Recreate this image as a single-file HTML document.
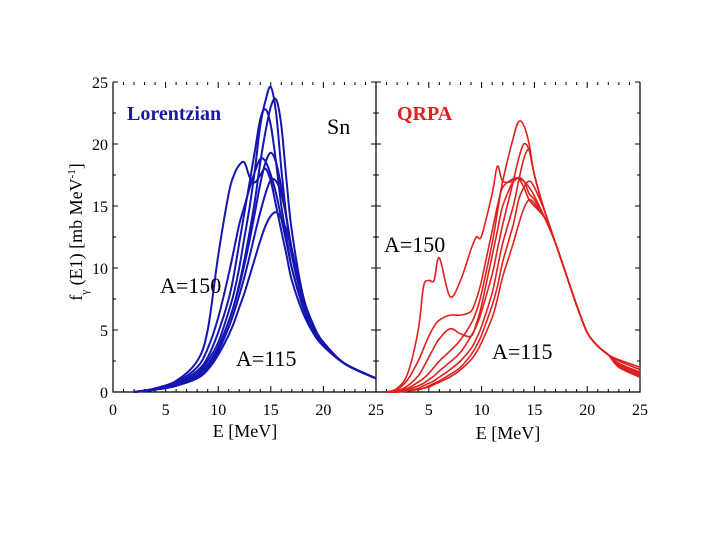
<!DOCTYPE html>
<html><head><meta charset="utf-8"><style>
body{margin:0;background:#fff;}
svg{display:block;font-family:"Liberation Serif",serif;}
</style></head><body>
<svg id="c" width="720" height="540"></svg>
<script>
const xTicks=[0,5,10,15,20,25];
const yTicks=[0,5,10,15,20,25];
const eL=[2,4,6,8,9,10,11,11.5,12,12.5,13,13.5,14,14.5,15,15.5,16,16.5,17,18,19,20,22,25];
const lor1=[0,0.3,0.9,2.5,5,11,16,17.5,18.3,18.5,17.3,16.9,17.5,18,17,15,13,11,9,6.5,4.8,3.7,2.3,1.1];
const lor2=[0,0.25,0.8,2,3.5,6,9.5,11.5,13.5,15,16.5,17.8,18.8,18.6,17.5,16,14,12,10,7,5,3.8,2.3,1.1];
const lor3=[0,0.2,0.7,1.7,2.8,4.8,7.5,9.5,12,14.5,17,19.5,22,22.8,21.5,18.5,15,12.5,10,7,5,3.8,2.3,1.1];
const lor4=[0,0.2,0.6,1.5,2.5,4,6.5,8,10,12.5,15,18,21.5,23.5,24.6,22.5,18,14,11,7.5,5.2,3.9,2.3,1.1];
const lor5=[0,0.2,0.5,1.3,2.2,3.6,5.7,7,8.7,10.7,13,15.5,18.5,21,23,23.6,21.5,17,13,8,5.5,4,2.3,1.1];
const lor6=[0,0.2,0.5,1.3,2.2,3.6,5.7,7,8.5,10.3,12.3,14.5,16.8,18.5,19.3,18.5,16.5,14,11.5,7.7,5.3,4,2.3,1.1];
const lor7=[0,0.2,0.5,1.2,2,3.3,5.2,6.4,7.8,9.3,11,12.8,14.5,16,17.1,17,16,14,11.5,7.7,5.3,4,2.3,1.1];
const lor8=[0,0.2,0.5,1.1,1.8,3,4.6,5.6,6.8,8,9.4,10.8,12.2,13.4,14.2,14.5,14,13,11.5,7.7,5.3,4,2.3,1.1];
const eR=[1,2,3,4,4.5,5,5.5,6,7,8,9,9.5,10,11,11.5,12,13,13.5,14,14.5,15,16,17,18,19,20,21,22,23,25];
const q1=[0,0.3,1.5,5,8.5,9,9,10.8,7.7,9,11.5,12.5,12.6,16,18.2,17,17,17.3,17,16,15.5,14,12,9.5,7,4.8,3.7,3,2.6,2];
const q2=[0,0.2,1,2.5,3.5,4.5,5.3,5.8,6.2,6.2,6.5,7.5,9,13,15,16.5,17.2,17.2,17,16.5,15.8,14,12,9.5,7,4.8,3.7,3,2.5,1.8];
const q3=[0,0.1,0.5,1.3,2,2.8,3.6,4.3,5.1,4.7,4.5,5.5,7,11,13,15,17,17.2,16.5,15.5,15,14,12,9.5,7,4.8,3.7,3,2.3,1.6];
const q4=[0,0.1,0.3,0.8,1.1,1.5,2,2.5,3.3,4.2,5.5,6.5,8,12,14.5,17,20.5,21.8,21.5,20,17.5,14.5,12,9.5,7,4.8,3.7,3,2.3,1.5];
const q5=[0,0,0.2,0.5,0.7,1,1.3,1.7,2.4,3.2,4.5,5.3,6.5,9.5,11.5,13.5,17,18.8,20,19.5,17.5,14.5,12,9.5,7,4.8,3.7,3,2.2,1.4];
const q6=[0,0,0.1,0.3,0.5,0.7,0.9,1.2,1.8,2.5,3.5,4.3,5.3,8,10,12,15,17,18.8,19.5,17.5,14.5,12,9.5,7,4.8,3.7,3,2.1,1.3];
const q7=[0,0,0.1,0.2,0.3,0.5,0.7,0.9,1.4,2,3,3.7,4.6,7,8.5,10.5,13.5,15.5,16.5,17,16.5,14.5,12,9.5,7,4.8,3.7,3,2,1.2];
const q8=[0,0,0.1,0.2,0.3,0.4,0.6,0.8,1.2,1.8,2.6,3.2,4,6,7.5,9.3,12,13.5,14.8,15.5,15.2,14,12,9.5,7,4.8,3.7,3,2,1.2];
const lorSeries=[lor1,lor2,lor3,lor4,lor5,lor6,lor7,lor8];
const qrpaSeries=[q1,q2,q3,q4,q5,q6,q7,q8];

const NS="http://www.w3.org/2000/svg";
const svg=document.getElementById('c');
const Y0=392,Y25=82;
function y(v){return Y0+(Y25-Y0)*v/25;}
function xL(v){return 113+(376-113)*v/25;}
function xR(v){return 376+(640-376)*v/25;}
function mk(t,a,p){const e=document.createElementNS(NS,t);for(const k in a)e.setAttribute(k,a[k]);(p||svg).appendChild(e);return e;}
function txt(s,x0,y0,a){const e=mk('text',Object.assign({x:x0,y:y0},a));e.textContent=s;return e;}

let f=mk('path',{d:`M113 ${Y25}V${Y0}H640V${Y25}M376 ${Y25}V${Y0}`,stroke:'#000','stroke-width':1.2,fill:'none'});


let d='';
for(let i=0;i<=25;i++){
  const len=i%5===0?6:3;
  d+=`M${xL(i)} ${Y25}v${len}M${xR(i)} ${Y25}v${len}M${xL(i)} ${Y0}v${-len}M${xR(i)} ${Y0}v${-len}`;
}
for(let v=0;v<=25;v+=2.5){const len=v%5===0?5:3;d+=`M113 ${y(v)}h${len}M640 ${y(v)}h${-len}M376 ${y(v)}h${len}M376 ${y(v)}h${-len}`;}
let tk=mk('path',{d:d,stroke:'#000','stroke-width':1,fill:'none'});



yTicks.forEach(v=>{const t=txt(String(v),108,y(v)+6,{'font-size':16,'text-anchor':'end'});

});
xTicks.forEach(v=>{
  const t=txt(String(v),xL(v),415,{'font-size':16,'text-anchor':'middle'});
  
  
  if(v>0){const t2=txt(String(v),xR(v),415,{'font-size':16,'text-anchor':'middle'});
  
  }
});

function line(E,vals,xf,col,w,name){
  const P=E.map((e,i)=>[xf(e),y(vals[i])]);
  let dd=`M${P[0][0].toFixed(1)},${P[0][1].toFixed(1)}`;
  for(let i=0;i<P.length-1;i++){
    const p0=P[Math.max(0,i-1)],p1=P[i],p2=P[i+1],p3=P[Math.min(P.length-1,i+2)];
    const c1=[p1[0]+(p2[0]-p0[0])/6,p1[1]+(p2[1]-p0[1])/6];
    const c2=[p2[0]-(p3[0]-p1[0])/6,p2[1]-(p3[1]-p1[1])/6];
    dd+=`C${c1[0].toFixed(1)},${c1[1].toFixed(1)} ${c2[0].toFixed(1)},${c2[1].toFixed(1)} ${p2[0].toFixed(1)},${p2[1].toFixed(1)}`;
  }
  const el=mk('path',{d:dd,fill:'none',stroke:col,'stroke-width':w,'stroke-linejoin':'round'});
  
  
}
lorSeries.forEach((s,i)=>line(eL,s,xL,'#1515b0',2,'lorentzian-curve-'+(i+1)));
qrpaSeries.forEach((s,i)=>line(eR,s,xR,'#e0201e',1.6,'qrpa-curve-'+(i+1)));

let t;
t=txt('Lorentzian',127,120,{'font-size':20,'font-weight':'bold',fill:'#1a1aa8'});
t=txt('QRPA',397,120,{'font-size':20,'font-weight':'bold',fill:'#e0201e'});
t=txt('Sn',327,134,{'font-size':22});
t=txt('A=150',160,293,{'font-size':22});
t=txt('A=115',236,366,{'font-size':22});
t=txt('A=150',384,252,{'font-size':22});
t=txt('A=115',492,359,{'font-size':22});
t=txt('E [MeV]',245,437,{'font-size':18,'text-anchor':'middle'});
t=txt('E [MeV]',508,439,{'font-size':18,'text-anchor':'middle'});
t=mk('text',{x:0,y:0,'font-size':18,'text-anchor':'middle',transform:'translate(82,232) rotate(-90)'});
t.innerHTML='f<tspan font-size="11" dy="6">γ</tspan><tspan dy="-6"> (E1) [mb MeV</tspan><tspan font-size="11" dy="-7">-1</tspan><tspan dy="7">]</tspan>';


</script>
</body></html>
